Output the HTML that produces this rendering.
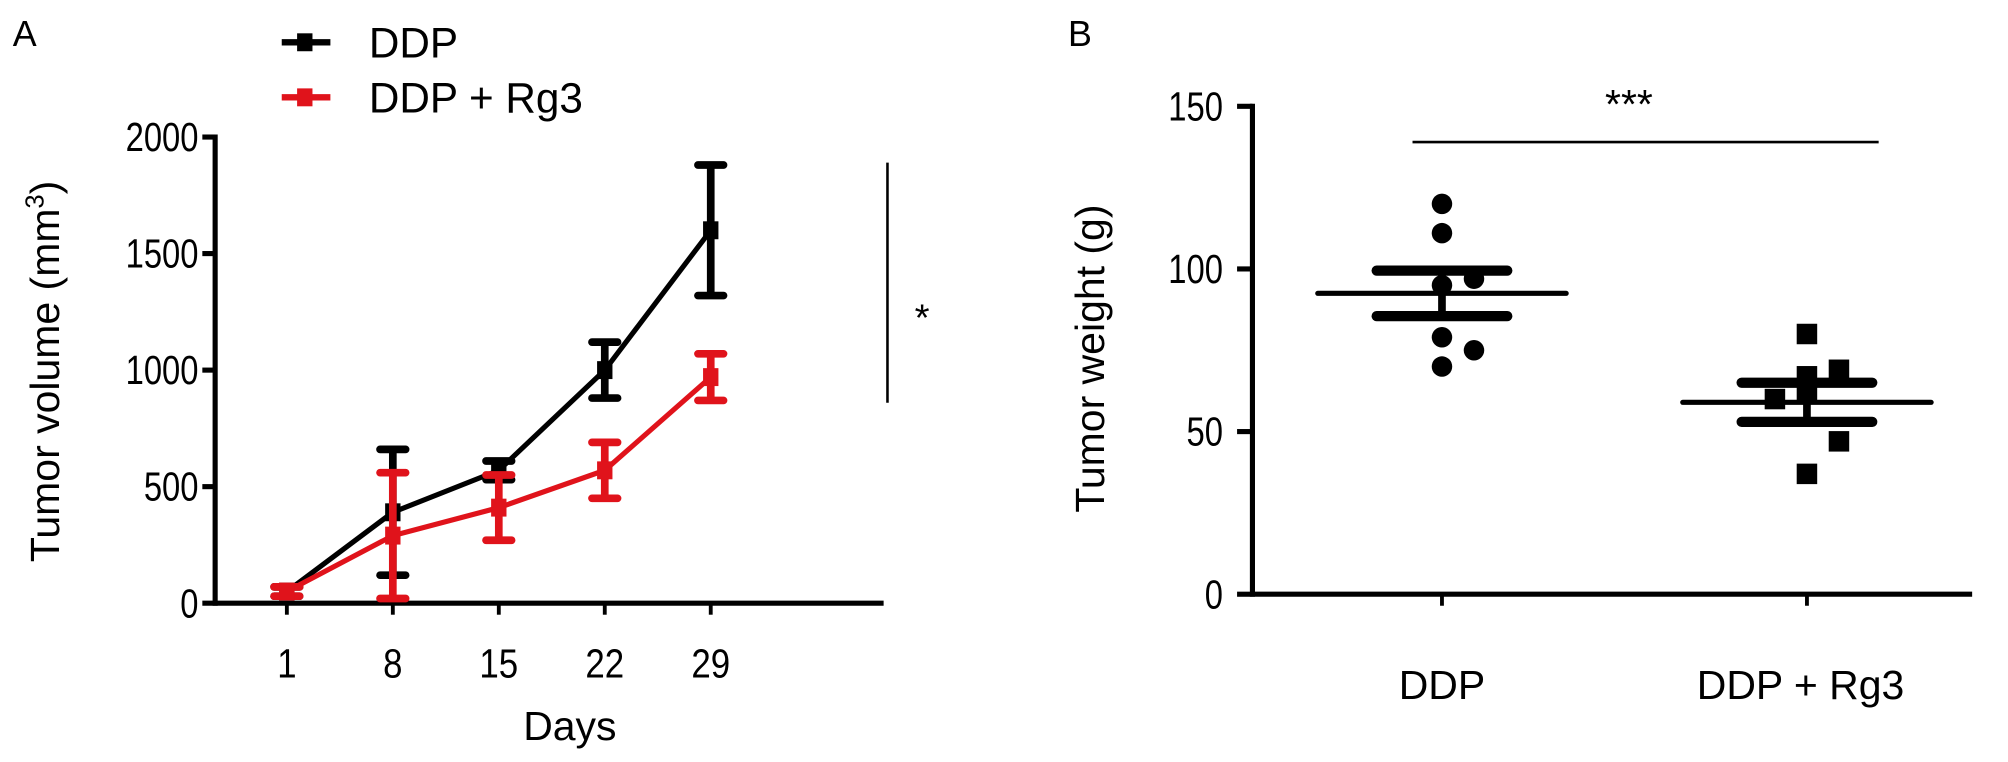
<!DOCTYPE html>
<html><head><meta charset="utf-8"><style>
html,body{margin:0;padding:0;background:#fff;}
svg{display:block;font-family:"Liberation Sans",Arial,sans-serif;}
</style></head><body>
<svg id="fig" width="2008" height="762" viewBox="0 0 1568 595">
<text x="10" y="36" font-size="28">A</text>
<text x="834" y="36" font-size="28">B</text>
<g>
 <g>
  <line x1="220" y1="33" x2="258" y2="33" stroke="#000" stroke-width="5"/>
  <rect x="232" y="26" width="12" height="14" fill="#000"/>
  <text x="288" y="45" font-size="33">DDP</text>
 </g>
 <g>
  <line x1="220" y1="76" x2="258" y2="76" stroke="#e0131b" stroke-width="5"/>
  <rect x="232" y="69" width="12" height="14" fill="#e0131b"/>
  <text x="288" y="88" font-size="33">DDP + Rg3</text>
 </g>
</g>
<g id="chartA"></g>
<g id="chartB"></g>
</svg>
<script>
const NS="http://www.w3.org/2000/svg";
// Panel A data
const daysA=[1,8,15,22,29];
const ddpMean=[50,390,570,1000,1600];
const ddpErr=[20,270,40,120,280];
const rg3Mean=[50,290,410,570,970];
const rg3Err=[20,270,140,120,100];
const yTicksA=[0,500,1000,1500,2000];
// Panel B data
const groupsB=["DDP","DDP + Rg3"];
const ddpWeights=[120,111,97,95,79,75,70];
const ddpOffsets=[0,0,1,0,0,1,0];
const rg3Weights=[80,69,67,60,62,47,37];
const rg3Offsets=[0,1,0,-1,0,1,0];
const meansB=[92.5,59];
const semB=[7,6];
const yTicksB=[0,50,100,150];

function el(tag,attrs,parent,text){const e=document.createElementNS(NS,tag);for(const k in attrs)e.setAttribute(k,attrs[k]);if(text!==undefined)e.textContent=text;parent.appendChild(e);return e;}
function condense(t,f){const L=t.getComputedTextLength();if(L>0){t.setAttribute('textLength',(L*f).toFixed(1));t.setAttribute('lengthAdjust','spacingAndGlyphs');}}

// Panel A
const A=document.getElementById('chartA');
const xA=d=>224+(d-1)*(555-224)/28;
const yA=v=>471-v*(471-107)/2000;
el('line',{x1:168,y1:yA(0),x2:690,y2:yA(0),stroke:'#000','stroke-width':4},A);
el('line',{x1:168,y1:yA(0)+2,x2:168,y2:yA(2000)-2,stroke:'#000','stroke-width':4},A);
yTicksA.forEach(t=>{
 el('line',{x1:158,y1:yA(t),x2:168,y2:yA(t),stroke:'#000','stroke-width':4},A);
 const tx=el('text',{x:155,y:yA(t)+11,'font-size':32,'text-anchor':'end'},A,String(t));
 
 
 condense(tx,0.8);
});
daysA.forEach(d=>{
 el('line',{x1:xA(d),y1:yA(0),x2:xA(d),y2:yA(0)+9,stroke:'#000','stroke-width':3},A);
 const tx=el('text',{x:xA(d),y:yA(0)+58,'font-size':32,'text-anchor':'middle'},A,String(d));
 
 
 condense(tx,0.85);
});
const xt=el('text',{x:445,y:578,'font-size':32,'text-anchor':'middle'},A,'Days');

const ytA=el('text',{x:0,y:0,'font-size':32,'text-anchor':'middle',transform:'translate(46,290) rotate(-90)'},A);
ytA.innerHTML='Tumor volume (mm<tspan dy="-12" font-size="20">3</tspan><tspan dy="12">)</tspan>';


function series(means,errs,color,name){
 const g=el('g',{},A);
 
 
 el('polyline',{points:means.map((m,i)=>xA(daysA[i])+','+yA(m)).join(' '),fill:'none',stroke:color,'stroke-width':4},g);
 means.forEach((m,i)=>{
  const x=xA(daysA[i]);
  const eb=el('path',{d:`M${x},${yA(m-errs[i])}V${yA(m+errs[i])}M${x-10},${yA(m+errs[i])}H${x+10}M${x-10},${yA(m-errs[i])}H${x+10}`,stroke:color,'stroke-width':6,fill:'none','stroke-linecap':'round'},g);
  
  el('rect',{x:x-6,y:yA(m)-7,width:12,height:14,fill:color},g);
 });
}
series(ddpMean,ddpErr,'#000','series-ddp');
series(rg3Mean,rg3Err,'#e0131b','series-ddp-rg3');
el('line',{x1:693,y1:yA(1890),x2:693,y2:yA(860),stroke:'#000','stroke-width':2},A);
const sa=el('text',{x:720,y:258,'font-size':30,'text-anchor':'middle'},A,'*');


// Panel B
const B=document.getElementById('chartB');
const yB=v=>464-v*(464-83)/150;
const xB=i=>[1126,1411][i];
el('line',{x1:978,y1:yB(0),x2:1540,y2:yB(0),stroke:'#000','stroke-width':4},B);
el('line',{x1:978,y1:yB(0)+2,x2:978,y2:yB(150)-2,stroke:'#000','stroke-width':4},B);
yTicksB.forEach(t=>{
 el('line',{x1:966,y1:yB(t),x2:978,y2:yB(t),stroke:'#000','stroke-width':4},B);
 const tx=el('text',{x:955,y:yB(t)+11,'font-size':32,'text-anchor':'end'},B,String(t));
 
 
 condense(tx,0.8);
});
groupsB.forEach((g,i)=>{
 el('line',{x1:xB(i),y1:yB(0),x2:xB(i),y2:yB(0)+9,stroke:'#000','stroke-width':3},B);
 const tx=el('text',{x:xB(i)-(i?5:0),y:yB(0)+82,'font-size':32,'text-anchor':'middle'},B,g);
 
 
});
const ytB=el('text',{x:0,y:0,'font-size':32,'text-anchor':'middle',transform:'translate(862,280) rotate(-90)'},B,'Tumor weight (g)');


ddpWeights.forEach((w,j)=>{
 const c=el('circle',{cx:xB(0)+ddpOffsets[j]*25,cy:yB(w),r:8,fill:'#000'},B);
 
 
});
rg3Weights.forEach((w,j)=>{
 const r=el('rect',{x:xB(1)+rg3Offsets[j]*25-8,y:yB(w)-8,width:16,height:16,fill:'#000'},B);
 
 
});
meansB.forEach((m,i)=>{
 const x=xB(i);
 const ml=el('line',{x1:x-97,y1:yB(m),x2:x+97,y2:yB(m),stroke:'#000','stroke-width':4,'stroke-linecap':'round'},B);
 
 el('line',{x1:x-51,y1:yB(m+semB[i]),x2:x+51,y2:yB(m+semB[i]),stroke:'#000','stroke-width':8,'stroke-linecap':'round'},B);
 el('line',{x1:x-51,y1:yB(m-semB[i]),x2:x+51,y2:yB(m-semB[i]),stroke:'#000','stroke-width':8,'stroke-linecap':'round'},B);
 el('line',{x1:x,y1:yB(m-semB[i]),x2:x,y2:yB(m+semB[i]),stroke:'#000','stroke-width':6},B);
});
el('line',{x1:1103,y1:yB(139),x2:1467,y2:yB(139),stroke:'#000','stroke-width':2},B);
const sb=el('text',{x:1272,y:92,'font-size':32,'text-anchor':'middle'},B,'***');

</script>
</body></html>
